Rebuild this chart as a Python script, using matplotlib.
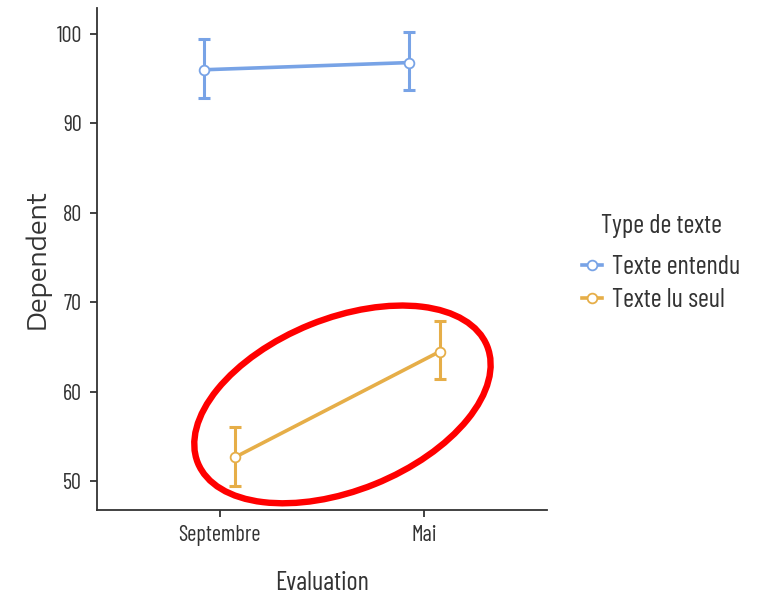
import matplotlib
matplotlib.use("Agg")
import matplotlib.pyplot as plt
from matplotlib.patches import Ellipse
from matplotlib.transforms import IdentityTransform
import numpy as np

categories = ["Septembre", "Mai"]
series_names = ["Texte entendu", "Texte lu seul"]
means_entendu = [96.0, 96.8]
low_entendu = [92.8, 93.7]
high_entendu = [99.4, 100.2]
means_lu = [52.7, 64.5]
low_lu = [49.5, 61.4]
high_lu = [56.1, 67.9]
colors = ["#78A3E6", "#E6AE48"]

narrow = ["Barlow Condensed", "Liberation Sans", "DejaVu Sans"]
wide = ["Encode Sans Expanded", "Liberation Sans", "DejaVu Sans"]
plt.rcParams["font.family"] = narrow

fig = plt.figure(figsize=(7.69, 6.0), dpi=100)
ax = fig.add_axes([97/769, 90/600, 450/769, 502/600])

x = np.arange(len(categories))
dodge = 0.075
series = [(means_entendu, low_entendu, high_entendu, -dodge),
          (means_lu, low_lu, high_lu, dodge)]
handles = []
for (m, lo, hi, off), col, name in zip(series, colors, series_names):
    m = np.array(m); lo = np.array(lo); hi = np.array(hi)
    xs = x + off
    ax.errorbar(xs, m, yerr=[m - lo, hi - m], fmt="none", ecolor=col,
                elinewidth=2.2, capsize=4.5, capthick=2.2, zorder=2)
    h, = ax.plot(xs, m, color=col, lw=2.6, marker="o", ms=7,
                 mfc="white", mec=col, mew=1.3, zorder=3, label=name)
    handles.append(h)

ax.set_xlim(-0.6, 1.6)
ax.set_ylim(46.8, 102.9)
ax.set_xticks(x)
ax.set_xticklabels(categories)
ax.set_yticks([50, 60, 70, 80, 90, 100])
for s in ["top", "right"]:
    ax.spines[s].set_visible(False)
for s in ["left", "bottom"]:
    ax.spines[s].set_color("#333333")
    ax.spines[s].set_linewidth(1.3)
ax.tick_params(axis="both", colors="#333333", width=1.3, length=5,
               labelsize=16, labelcolor="#333333", pad=6)
ax.set_xlabel("Evaluation", fontsize=19, color="#333333", labelpad=18)
ax.set_ylabel("Dependent", fontsize=18, color="#333333", labelpad=4,
              family=wide)

leg = fig.legend(handles=handles, labels=series_names, title="Type de texte",
                 loc="upper left", bbox_to_anchor=(558/769, 1 - 190/600),
                 frameon=False, fontsize=19, title_fontsize=19,
                 handlelength=0.75, handletextpad=0.4, labelspacing=0.33)
leg._legend_box.sep = 12.7
for t in leg.get_texts():
    t.set_color("#333333")
leg.get_title().set_color("#333333")

# red annotation ellipse around the "Texte lu seul" line (pixel space)
fig.canvas.draw()
cx, cy = ax.transData.transform((0.6, 58.6))
ell = Ellipse((cx, cy), width=312, height=172, angle=22, fill=False,
              edgecolor="#FF0000", lw=4.6, transform=IdentityTransform(),
              zorder=5)
fig.patches.append(ell)
ell.set_figure(fig)

fig.savefig("out.png", dpi=100)
